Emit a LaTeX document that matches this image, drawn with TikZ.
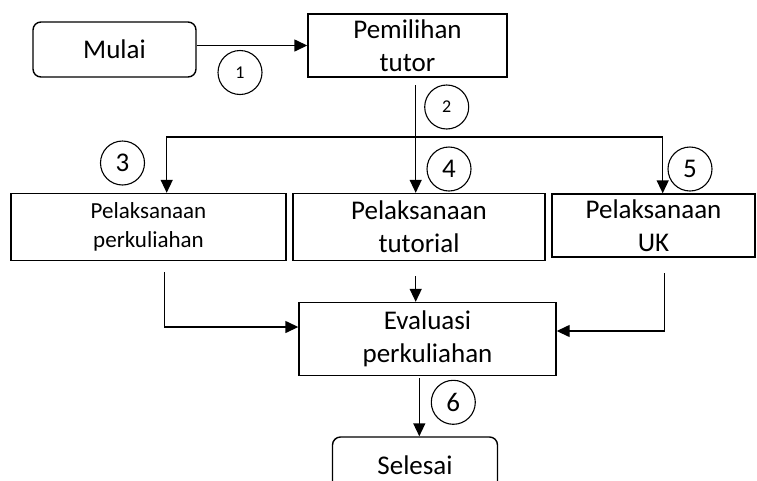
\documentclass[tikz,border=0pt]{standalone}
\usepackage{fontspec}
\setmainfont{Carlito}
\usetikzlibrary{arrows.meta,calc}
\newcommand{\osnum}[1]{\raisebox{-4.5pt}{\fontsize{18}{18}\selectfont #1}}
\begin{document}
\begin{tikzpicture}[x=1pt,y=-1pt,
  lw/.style={line width=1.4pt},
  box/.style={draw,lw,inner sep=0pt,align=center,font=\fontsize{27}{33}\selectfont},
  smallbox/.style={box,font=\fontsize{23}{29}\selectfont},
  term/.style={box,rounded corners=8pt},
  num/.style={draw,circle,line width=1.1pt,minimum size=44pt,inner sep=0pt,font=\fontsize{27}{27}\selectfont},
  arr/.style={lw,-{Triangle[length=13pt,width=12pt]}}]
\useasboundingbox (0,0) rectangle (757,480);
\clip (0,0) rectangle (757,480);
\node[term,minimum width=163pt,minimum height=55pt] (mulai) at (114.5,49.5) {Mulai};
\node[box,minimum width=199pt,minimum height=63pt] (pem) at (407.5,45.5) {Pemilihan\\tutor};
\node[smallbox,minimum width=275pt,minimum height=67pt] (perk) at (148.5,227) {Pelaksanaan\\perkuliahan};
\node[box,minimum width=252pt,minimum height=67pt] (tut) at (419,227) {Pelaksanaan\\tutorial};
\node[box,minimum width=203pt,minimum height=63pt] (uk) at (653.5,225.5) {Pelaksanaan\\UK};
\node[box,minimum width=257pt,minimum height=73pt] (eval) at (427.5,339) {Evaluasi\\perkuliahan};
\node[term,minimum width=165pt,minimum height=56pt] (sel) at (415,465) {Selesai};
\node[num] (n1) at (240,72.5) {\osnum{1}};
\node[num] (n2) at (446.7,107) {\osnum{2}};
\node[num] (n3) at (122.5,163) {3};
\node[num] (n4) at (449,169) {4};
\node[num] (n5) at (690,169) {5};
\node[num] (n6) at (453.3,402.3) {6};
\draw[arr] (mulai.east |- pem.west) -- (pem.west);
\coordinate (s2) at (415.7,85);
\draw[arr] (s2) -- (s2 |- tut.north);
\coordinate (bl) at (166.7,137);
\coordinate (br) at (662.7,137);
\draw[arr] (br) -- (bl) -- (bl |- perk.north);
\draw[arr] (br) -- (br |- uk.north);
\coordinate (sp) at (164.3,272);
\draw[arr] (sp) |- ($(eval.west)+(0,-12)$);
\coordinate (st) at (415.7,276);
\draw[arr] (st) -- (st |- eval.north);
\coordinate (su) at (664.3,273);
\draw[arr] (su) |- ($(eval.east)+(0,-8)$);
\coordinate (se) at (419.3,378);
\draw[arr] (se) -- (se |- sel.north);
\end{tikzpicture}
\end{document}
